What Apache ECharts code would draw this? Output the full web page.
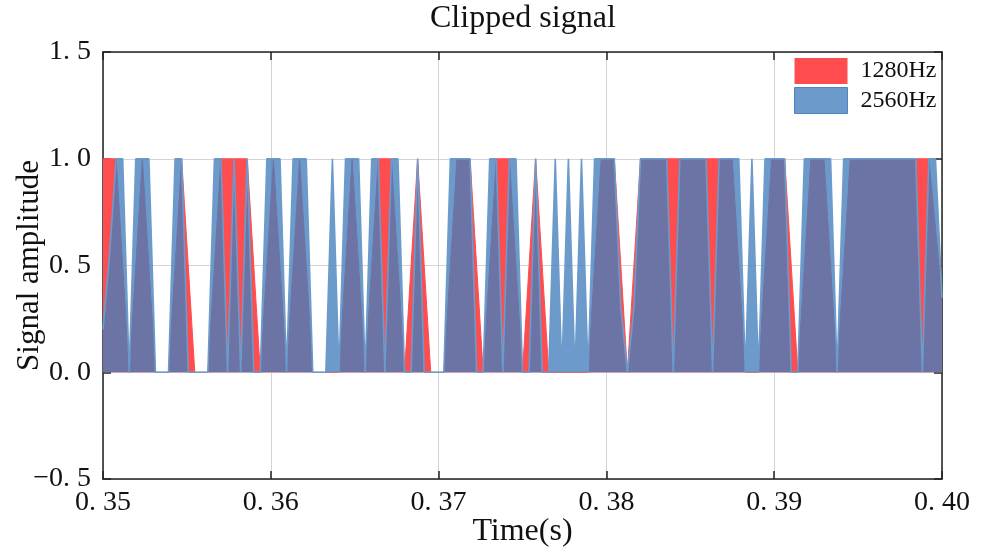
<!DOCTYPE html>
<html>
<head>
<meta charset="utf-8">
<script src="https://cdn.jsdelivr.net/npm/echarts@6/dist/echarts.min.js"></script>
<style>html,body{margin:0;padding:0;background:#fff}#c{width:989px;height:557px}</style>
</head>
<body>
<div id="c"></div>
<script>
// ---- data ----
const startTime = 0.35;
const rateLow = 1280;   // samples per second, red series
const rateHigh = 2560;  // samples per second, blue series
const seriesNames = ['1280Hz', '2560Hz'];

// clipped values of the 1280Hz series (one value per sample)
const values1280 = [
  1, 1, 0, 1, 0, 0, 1, 0, 0, 1,
  1, 1, 0, 1, 0, 1, 0, 0, 0, 1,
  0, 1, 1, 0, 1, 0, 0, 1, 1, 0,
  1, 1, 0, 1, 0, 0, 0, 0, 1, 1,
  0, 1, 1, 1, 1, 1, 1, 1, 1, 0,
  0, 1, 1, 0, 1, 1, 0, 1, 1, 1,
  1, 1, 1, 1, 0.35
];

// clipped values of the 2560Hz series (one value per sample)
const values2560 = [
  0.2, 0.55, 1, 1, 0, 1, 1, 1, 0, 0,
  0, 1, 1, 0, 0, 0, 0, 1, 1, 0,
  1, 0, 1, 0, 0, 1, 1, 1, 0, 1,
  1, 1, 0, 0, 0, 1, 0, 1, 1, 1,
  0, 1, 1, 0, 1, 1, 0, 0, 1, 0,
  0, 0, 0, 1, 1, 1, 1, 0, 0, 1,
  1, 0, 1, 1, 0, 0, 1, 0, 0, 1,
  0, 1, 0, 1, 0, 1, 1, 1, 1, 0.3,
  0, 0.3, 1, 1, 1, 1, 1, 0, 1, 1,
  1, 1, 1, 0, 1, 1, 1, 1, 0, 1,
  0, 1, 1, 1, 1, 0, 0, 1, 1, 1,
  1, 1, 0, 1, 1, 1, 1, 1, 1, 1,
  1, 1, 1, 1, 1, 0, 1, 1, 0.35
];

const xTickLabels = ['0. 35', '0. 36', '0. 37', '0. 38', '0. 39', '0. 40'];
const yTickLabels = ['\u22120. 5', '0. 0', '0. 5', '1. 0', '1. 5'];

// ---- chart ----
const FONT = "'Liberation Serif', 'Times New Roman', serif";
const RED = '#ff4d4f';
const BLUE_FILL = 'rgb(68,127,189)';
const BLUE_LINE = '#6c9bcb';
const AXIS_COLOR = '#222';
const GRID_COLOR = '#d4d4d4';

function toPairs(values, rate) {
  return values.map((v, i) => [startTime + i / rate, v]);
}

const chart = echarts.init(document.getElementById('c'), null, {renderer: 'canvas'});

const axisCommon = {
  type: 'value',
  axisLine: {show: true, onZero: false, lineStyle: {color: AXIS_COLOR, width: 1.5}},
  axisTick: {show: true, inside: true, length: 8, lineStyle: {color: AXIS_COLOR, width: 1.5}}
};

chart.setOption({
  animation: false,
  backgroundColor: '#fff',
  title: {
    text: 'Clipped signal',
    left: 430, top: 3, padding: 0,
    textStyle: {fontFamily: FONT, fontSize: 32, fontWeight: 'normal', color: '#111'}
  },
  legend: {
    orient: 'vertical',
    left: 794, top: 58, padding: 0,
    itemWidth: 53, itemHeight: 26, itemGap: 3,
    textStyle: {fontFamily: FONT, fontSize: 24, color: '#111', padding: [0, 0, 0, 8]},
    data: [
      {name: seriesNames[0], icon: 'rect', itemStyle: {color: RED, borderWidth: 0}},
      {name: seriesNames[1], icon: 'rect', itemStyle: {color: BLUE_LINE, borderColor: '#4f86c2', borderWidth: 1}}
    ]
  },
  grid: {left: 103, right: 47, top: 52, bottom: 78, containLabel: false, outerBoundsMode: 'none'},
  xAxis: [
    Object.assign({}, axisCommon, {
      position: 'bottom',
      min: 0.35, max: 0.40, interval: 0.01,
      name: 'Time(s)', nameLocation: 'middle', nameGap: 37, nameMoveOverlap: false,
      nameTextStyle: {fontFamily: FONT, fontSize: 32, color: '#111'},
      axisLabel: {
        fontFamily: FONT, fontSize: 28, color: '#111', margin: 10,
        formatter: v => xTickLabels[Math.round(v * 100) - 35]
      },
      splitLine: {show: true, lineStyle: {color: GRID_COLOR, width: 1}}
    }),
    Object.assign({}, axisCommon, {
      position: 'top',
      min: 0.35, max: 0.40, interval: 0.01,
      axisLabel: {show: false},
      splitLine: {show: false}
    })
  ],
  yAxis: [
    Object.assign({}, axisCommon, {
      position: 'left',
      min: -0.5, max: 1.5, interval: 0.5,
      name: 'Signal amplitude', nameLocation: 'middle', nameGap: 58, nameRotate: 90, nameMoveOverlap: false,
      nameTextStyle: {fontFamily: FONT, fontSize: 31, color: '#111'},
      axisLabel: {
        fontFamily: FONT, fontSize: 28, color: '#111', margin: 12,
        formatter: v => yTickLabels[Math.round((v + 0.5) * 2)]
      },
      splitLine: {show: true, lineStyle: {color: GRID_COLOR, width: 1}}
    }),
    Object.assign({}, axisCommon, {
      position: 'right',
      min: -0.5, max: 1.5, interval: 0.5,
      axisLabel: {show: false},
      splitLine: {show: false}
    })
  ],
  series: [
    {
      name: seriesNames[0],
      type: 'line',
      data: toPairs(values1280, rateLow),
      showSymbol: false, symbol: 'none',
      lineStyle: {color: RED, width: 1},
      itemStyle: {color: RED},
      areaStyle: {color: RED, opacity: 1},
      clip: true, z: 2
    },
    {
      name: seriesNames[1],
      type: 'line',
      data: toPairs(values2560, rateHigh),
      showSymbol: false, symbol: 'none',
      lineStyle: {color: BLUE_LINE, width: 1.6},
      itemStyle: {color: BLUE_LINE},
      areaStyle: {color: BLUE_FILL, opacity: 0.79},
      clip: true, z: 3
    }
  ]
});
</script>
</body>
</html>
